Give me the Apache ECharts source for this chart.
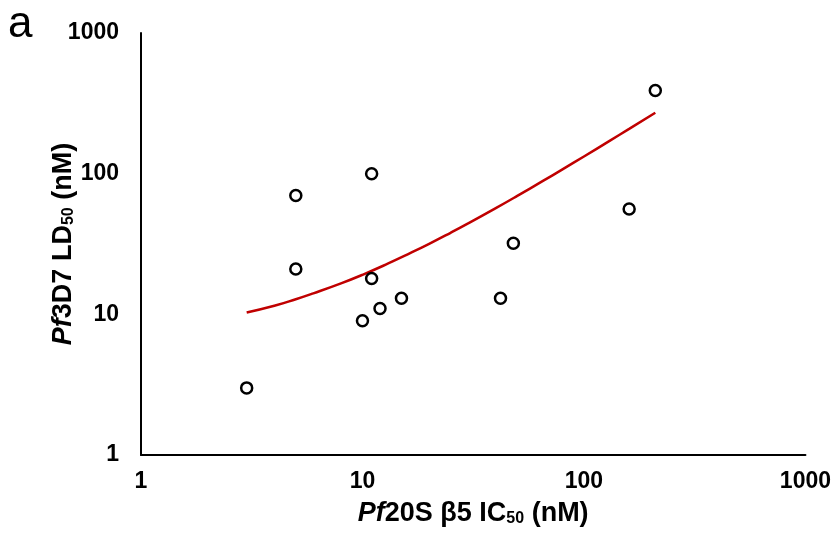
<!DOCTYPE html>
<html><head><meta charset="utf-8">
<script src="https://cdn.jsdelivr.net/npm/echarts@6/dist/echarts.min.js"></script>
<style>html,body{margin:0;padding:0;background:#fff}#c{width:834px;height:540px}</style>
</head><body><div id="c"></div>
<script>
// Measured data points (IC50 nM, LD50 nM)
const ic50 = [3, 5, 5, 11, 11, 10, 12, 15, 42, 48, 160, 210];
const ld50 = [3, 70, 21, 100, 18, 9, 11, 13, 13, 32, 56, 390];
// Trendline points
const trendX = [3, 4, 5, 6, 8, 10, 13, 16, 20, 25, 30, 40, 50, 65, 80, 100, 130, 160, 210];
const trendY = [10.3, 11.5, 12.8, 14.1, 16.6, 19.1, 22.9, 26.7, 31.7, 38.0, 44.3, 56.9, 69.5, 88.4, 107.3, 132.5, 170.3, 208.1, 271];
const tickLabels = ['1', '10', '100', '1000'];

const F = '"Liberation Sans", Arimo, sans-serif';
const chart = echarts.init(document.getElementById('c'));
const nameRich = {
  i: {fontFamily: F, fontSize: 27, fontWeight: 'bold', fontStyle: 'italic', color: '#000'},
  b: {fontFamily: F, fontSize: 27, fontWeight: 'bold', color: '#000'},
  s: {fontFamily: F, fontSize: 16, fontWeight: 'bold', color: '#000', verticalAlign: 'bottom'}
};
const axisCommon = {
  type: 'log', logBase: 10, min: 1, max: 1000,
  axisLine: {lineStyle: {color: '#000', width: 2}},
  axisTick: {show: false},
  splitLine: {show: false},
  axisLabel: {fontFamily: F, fontSize: 23, fontWeight: 'bold', color: '#000',
    formatter: v => tickLabels.includes(String(Math.round(v))) ? String(Math.round(v)) : ''}
};
const scatterData = ic50.map((x, i) => [x, ld50[i]]);
const trendData = trendX.map((x, i) => [x, trendY[i]]);
chart.setOption({
  animation: false,
  backgroundColor: '#fff',
  grid: {left: 141, right: 28, top: 33, bottom: 85},
  xAxis: Object.assign({}, axisCommon, {
    name: '{i|Pf}{b|20S β5 IC}{s|50}{b| (nM)}',
    nameLocation: 'middle', nameGap: 45, nameMoveOverlap: false,
    nameTextStyle: {rich: nameRich},
    axisLabel: Object.assign({}, axisCommon.axisLabel, {margin: 15})
  }),
  yAxis: Object.assign({}, axisCommon, {
    name: '{i|Pf}{b|3D7 LD}{s|50}{b| (nM)}',
    nameLocation: 'middle', nameGap: 64, nameRotate: 90, nameMoveOverlap: false,
    nameTextStyle: {rich: nameRich},
    axisLabel: Object.assign({}, axisCommon.axisLabel, {margin: 22})
  }),
  graphic: [{type: 'text', x: 8, y: 3, style: {text: 'a', font: '44px ' + F, fill: '#000', verticalAlign: 'top'}}],
  series: [
    {type: 'line', data: trendData, smooth: true, showSymbol: false,
     lineStyle: {color: '#C00000', width: 2.5}, z: 2},
    {type: 'scatter', data: scatterData, symbol: 'circle', symbolSize: 11,
     itemStyle: {color: '#fff', borderColor: '#000', borderWidth: 2.5, opacity: 1}, z: 3}
  ]
});
</script></body></html>
